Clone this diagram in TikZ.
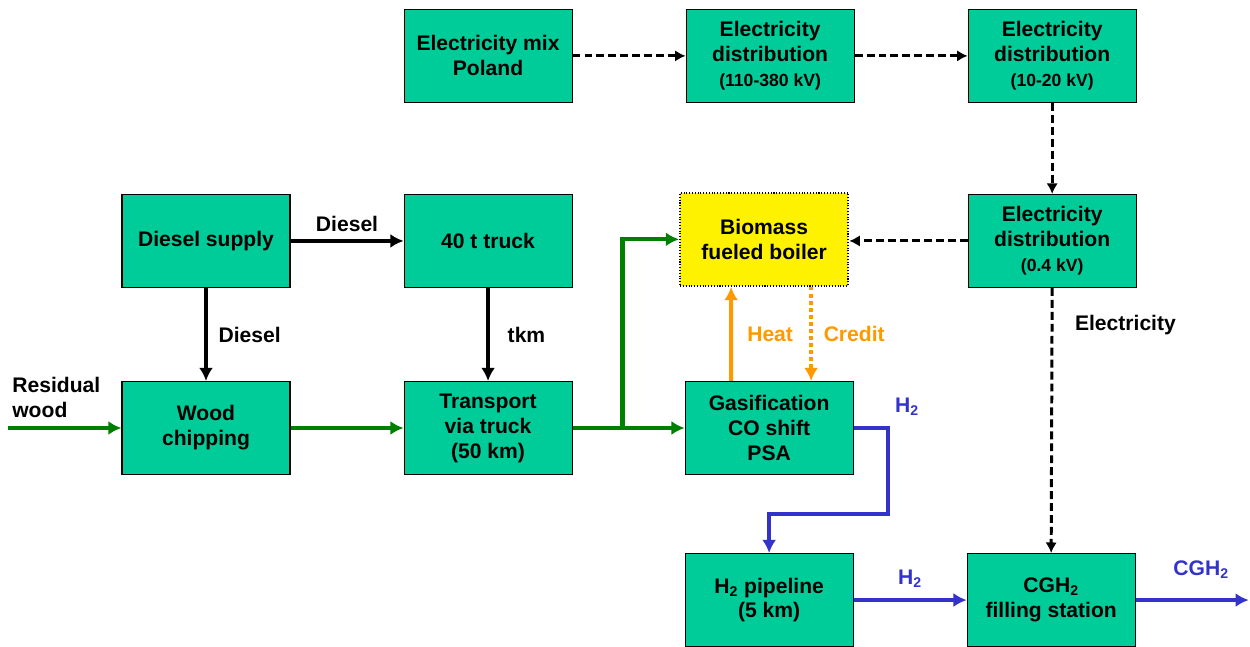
\documentclass[tikz,border=0pt]{standalone}
\usepackage{fontspec}
\setmainfont{Liberation Sans}
\usetikzlibrary{arrows.meta,positioning}
\definecolor{boxgreen}{RGB}{0,204,153}
\definecolor{woodgreen}{RGB}{0,128,0}
\definecolor{hydroblue}{RGB}{51,51,204}
\definecolor{heatorange}{RGB}{255,153,0}
\newcommand{\kvtext}[1]{{\fontsize{10}{12}\selectfont #1}}
\tikzset{
    procbox/.style={draw, line width=0.6pt, fill=boxgreen, align=center, font=\fontsize{12}{14.2}\selectfont\bfseries, minimum width=3.36cm, minimum height=1.86cm, inner sep=1pt},
    boilerbox/.style={procbox, fill=yellow, densely dotted, line width=1.3pt},
    flowarrow/.style={-{Latex[length=7.5pt,width=8pt]}, line width=2.4pt, woodgreen},
    fuelarrow/.style={flowarrow, black},
    elecarrow/.style={-{Latex[length=6pt,width=6.5pt]}, line width=1.7pt, dash pattern=on 4.5pt off 2.3pt},
    heatarrow/.style={flowarrow, heatorange},
    creditarrow/.style={heatarrow, dash pattern=on 2pt off 2pt},
    hydroarrow/.style={flowarrow, hydroblue},
    flowlabel/.style={font=\fontsize{12}{14.2}\selectfont\bfseries, inner sep=2pt}
}

\begin{document}
\begin{tikzpicture}[node distance=1.9cm and 2.26cm]
    \useasboundingbox (0,0) rectangle (25,12.92);
    % wood chain
    \node[procbox] (chip) at (4.12,4.36) {Wood\\chipping};
    \node[procbox, right=of chip] (transp) {Transport\\via truck\\(50 km)};
    \node[procbox, right=2.24cm of transp] (gasif) {Gasification\\CO shift\\PSA};
    \node[procbox, above=1.86cm of chip] (dsupply) {Diesel supply};
    \node[procbox, above=1.86cm of transp] (truck) {40 t truck};
    \node[boilerbox, above=1.88cm of gasif, xshift=-0.1cm] (boiler) {Biomass\\fueled boiler};
    % electricity chain
    \node[procbox, above=1.82cm of truck] (mix) {Electricity mix\\Poland};
    \node[procbox, right=of mix] (hv) {Electricity\\distribution\\\kvtext{(110-380 kV)}};
    \node[procbox, right=of hv] (mv) {Electricity\\distribution\\\kvtext{(10-20 kV)}};
    \node[procbox, below=1.82cm of mv] (lv) {Electricity\\distribution\\\kvtext{(0.4 kV)}};
    % hydrogen chain
    \node[procbox, below=1.56cm of gasif] (pipe) {H\textsubscript{2} pipeline\\(5 km)};
    \node[procbox, right=of pipe] (station) {CGH\textsubscript{2}\\filling station};

    \coordinate[left=2.26cm of chip.west] (woodin);
    \coordinate[right=2.26cm of station.east] (fuelout);
    \coordinate (split) at ([xshift=1cm]transp.east);
    \coordinate (hbend) at ([shift={(0.68,-0.78)}]gasif.south east);

    \node[flowlabel, align=left, anchor=south west] (reslabel) at ([yshift=0.12cm]woodin) {Residual\\wood};

    \draw[flowarrow] (woodin) -- (chip.west);
    \draw[flowarrow] (chip.east) -- (transp.west);
    \draw[flowarrow] (transp.east) -- (gasif.west);
    \draw[flowarrow] (split) |- (boiler.west);
    \draw[fuelarrow] (dsupply.east) -- node[flowlabel, midway, above=2pt] {Diesel} (truck.west);
    \draw[fuelarrow] (dsupply.south) -- node[flowlabel, midway, right=4pt] {Diesel} (chip.north);
    \draw[fuelarrow] (truck.south) -- node[flowlabel, midway, right=8pt] {tkm} (transp.north);
    \draw[heatarrow] ([xshift=-0.76cm]gasif.north) -- node[flowlabel, midway, right=6pt, heatorange] {Heat} ([xshift=-0.66cm]boiler.south);
    \draw[creditarrow] ([xshift=0.94cm]boiler.south) -- node[flowlabel, midway, right=4pt, heatorange] {Credit} ([xshift=0.84cm]gasif.north);
    \draw[elecarrow] (mix.east) -- (hv.west);
    \draw[elecarrow] (hv.east) -- (mv.west);
    \draw[elecarrow] (mv.south) -- (lv.north);
    \draw[elecarrow] (lv.west) -- (lv.west -| boiler.east);
    \draw[elecarrow] (lv.south) -- node[flowlabel, pos=0.14, right=0.36cm] {Electricity} (station.north);
    \draw[hydroarrow] (gasif.east) -| node[flowlabel, pos=0.5, above right=4pt and 1pt, hydroblue] {H\textsubscript{2}} (hbend) -| (pipe.north);
    \draw[hydroarrow] (pipe.east) -- node[flowlabel, midway, above=4pt, hydroblue] {H\textsubscript{2}} (station.west);
    \draw[hydroarrow] (station.east) -- node[flowlabel, midway, above=9pt, xshift=0.18cm, hydroblue] {CGH\textsubscript{2}} (fuelout);
\end{tikzpicture}
\end{document}
